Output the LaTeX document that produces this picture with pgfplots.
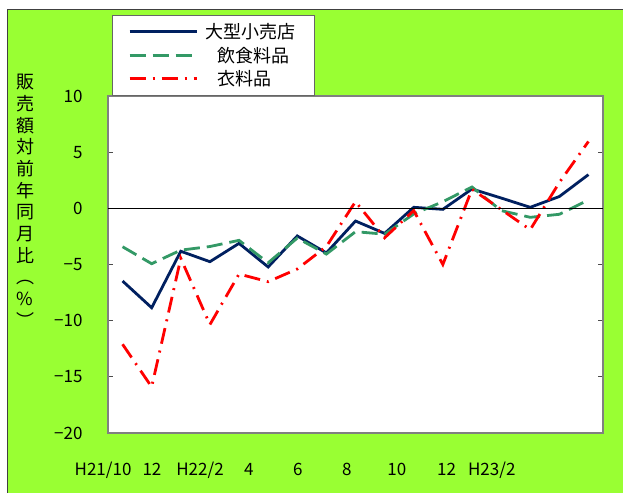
\documentclass[border=0pt]{standalone}
\usepackage{fontspec}
\setmainfont{Noto Sans CJK JP}
\usepackage{pgfplots}
\pgfplotsset{compat=1.18}
\definecolor{navy}{RGB}{0,32,96}
\definecolor{dgreen}{RGB}{51,153,102}
\definecolor{lime}{RGB}{153,255,51}
\begin{document}
\begin{tikzpicture}
\useasboundingbox (0bp,0bp) rectangle (623bp,493bp);
\fill[white] (0bp,0bp) rectangle (623bp,493bp);
\filldraw[fill=lime, draw=black!75, line width=1bp] (7bp,-5bp) rectangle (630bp,483bp);
\node[font=\fontsize{18bp}{21.7bp}\selectfont, align=center, anchor=north, inner sep=0] at (25bp,419bp) {販\\売\\額\\対\\前\\年\\同\\月\\比\\︵\\\%\\︶};
\begin{axis}[
  at={(108bp,60bp)}, anchor=south west,
  width=495bp, height=337bp, scale only axis,
  xmin=-0.5, xmax=16.5, ymin=-20, ymax=10,
  ytick={-20,-15,-10,-5,0,5,10},
  yticklabels={−20,−15,−10,−5,0,5,10},
  xtick=\empty,
  axis background/.style={fill=white},
  axis line style={draw=gray, line width=2bp},
  tick align=inside, major tick length=5bp,
  ytick style={draw=black!70, line width=0.8bp},
  yticklabel style={font=\fontsize{17bp}{20bp}\selectfont, anchor=east, xshift=-22bp},
  clip=false,
  legend cell align=left,
  legend style={at={(0.008,1.240)}, anchor=north west, draw=black!60, fill=white,
    font=\fontsize{18bp}{21bp}\selectfont, inner xsep=16bp, inner ysep=6bp, row sep=3bp,
    /tikz/every odd column/.append style={column sep=6bp}},
  legend image code/.code={\draw[#1] (0bp,0bp) -- (67bp,0bp);},
]
\addplot[navy, line width=2.8bp] coordinates {
(0,-6.47) (1,-8.85) (2,-3.82) (3,-4.75) (4,-3.12) (5,-5.22) (6,-2.46) (7,-3.97) (8,-1.13)
(9,-2.23) (10,0.09) (11,-0.09) (12,1.72) (13,0.92) (14,0.09) (15,1.05) (16,3.0)};
\addlegendentry{大型小売店}
\addplot[dgreen, line width=2.8bp, dash pattern=on 16bp off 7bp] coordinates {
(0,-3.42) (1,-4.93) (2,-3.72) (3,-3.4) (4,-2.85) (5,-4.85) (6,-2.65) (7,-4.07) (8,-2.08)
(9,-2.3) (10,-0.5) (11,0.59) (12,1.9) (13,-0.2) (14,-0.8) (15,-0.53) (16,0.74)};
\addlegendentry{\hspace{12bp}飲食料品}
\addplot[red, line width=2.8bp, dash pattern=on 16bp off 7bp on 2bp off 7bp] coordinates {
(0,-12.1) (1,-15.9) (2,-4.45) (3,-10.35) (4,-5.85) (5,-6.53) (6,-5.4) (7,-3.4) (8,0.6)
(9,-2.62) (10,-0.2) (11,-5.0) (12,1.7) (13,-0.1) (14,-1.9) (15,2.3) (16,5.95)};
\addlegendentry{\hspace{12bp}衣料品}
\draw[black, line width=1bp] (axis cs:-0.5,0) -- (axis cs:16.5,0);
\begin{scope}[every node/.style={font=\fontsize{17bp}{20bp}\selectfont, anchor=base, yshift=-42bp, inner sep=0}]
\node at (axis cs:-0.67,-20) {H21/10};
\node at (axis cs:1.01,-20) {12};
\node at (axis cs:2.66,-20) {H22/2};
\node at (axis cs:4.34,-20) {4};
\node at (axis cs:6.02,-20) {6};
\node at (axis cs:7.70,-20) {8};
\node at (axis cs:9.42,-20) {10};
\node at (axis cs:11.13,-20) {12};
\node at (axis cs:12.68,-20) {H23/2};
\end{scope}
\end{axis}
\end{tikzpicture}
\end{document}
